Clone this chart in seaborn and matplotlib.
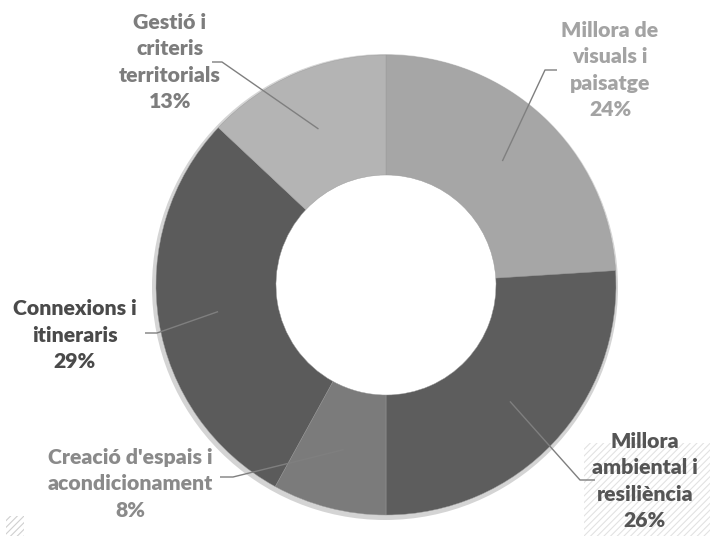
import numpy as np
import matplotlib
matplotlib.use("Agg")
import matplotlib.pyplot as plt
import seaborn as sns
from matplotlib.patches import Circle, Rectangle

sns.set_theme(style="white")
plt.rcParams['font.family'] = ['Lato', 'DejaVu Sans']
plt.rcParams['hatch.linewidth'] = 0.8

# ---- data ----
categories = ["Millora de\nvisuals i\npaisatge",
              "Millora\nambiental i\nresiliència",
              "Creació d'espais i\nacondicionament",
              "Connexions i\nitineraris",
              "Gestió i\ncriteris\nterritorials"]
values = [24, 26, 8, 29, 13]
slice_colors = ["#a6a6a6", "#5d5d5d", "#7b7b7b", "#5b5b5b", "#b4b4b4"]
text_colors = ["#a3a3a3", "#555555", "#8a8a8a", "#4a4a4a", "#7d7d7d"]

# ---- layout (pixel-based, y measured upward) ----
W, H = 710, 536
cx, cy = 386, 251
R_out, R_in = 230, 110
label_xy = [(610, 466), (645, 55), (130, 52), (75, 201), (170, 474)]
elbows = [((545, 466), (557, 466)),
          ((580, 56), (595, 56)),
          ((233, 59), (220, 59)),
          ((157, 203), (145, 203)),
          ((222, 474), (212, 474))]

fig = plt.figure(figsize=(W / 100, H / 100), dpi=100)
ax = fig.add_axes([0, 0, 1, 1])
ax.set_xlim(0, W)
ax.set_ylim(0, H)
ax.axis("off")

# background hatch decorations
ax.add_patch(Rectangle((584, 0), 126, 93, fill=False, hatch="/////",
                       edgecolor="#e2e2e2", linewidth=0, zorder=0))
ax.add_patch(Rectangle((6, 0), 18, 20, fill=False, hatch="/////",
                       edgecolor="#cfcfcf", linewidth=0, zorder=0))

# soft outer rim
ax.add_patch(Circle((cx - 1, cy - 2), R_out + 3, facecolor="#d4d4d4",
                    edgecolor="none", zorder=1))
ax.add_patch(Circle((cx, cy), R_in + 2, facecolor="white",
                    edgecolor="none", zorder=1.5))

wedges, _ = ax.pie(values, colors=slice_colors, startangle=90,
                   counterclock=False, radius=R_out, center=(cx, cy),
                   wedgeprops=dict(width=R_out - R_in, edgecolor="#9a9a9a",
                                   linewidth=0.3))
for w in wedges:
    w.set_zorder(2)
ax.set_xlim(0, W)
ax.set_ylim(0, H)
ax.set_aspect("equal")

for w, lab, v, (tx, ty), (el, end), tc in zip(wedges, categories, values,
                                               label_xy, elbows, text_colors):
    mid = np.deg2rad((w.theta1 + w.theta2) / 2)
    px, py = cx + 170 * np.cos(mid), cy + 170 * np.sin(mid)
    ax.plot([px, el[0], end[0]], [py, el[1], end[1]], color="#7f7f7f",
            linewidth=1.0, zorder=3, solid_capstyle="butt")
    ax.text(tx, ty, f"{lab}\n{v}%", ha="center", va="center",
            fontsize=15.3, fontweight="heavy", color=tc, linespacing=1.45,
            zorder=4)

fig.savefig("out.png", dpi=100)
